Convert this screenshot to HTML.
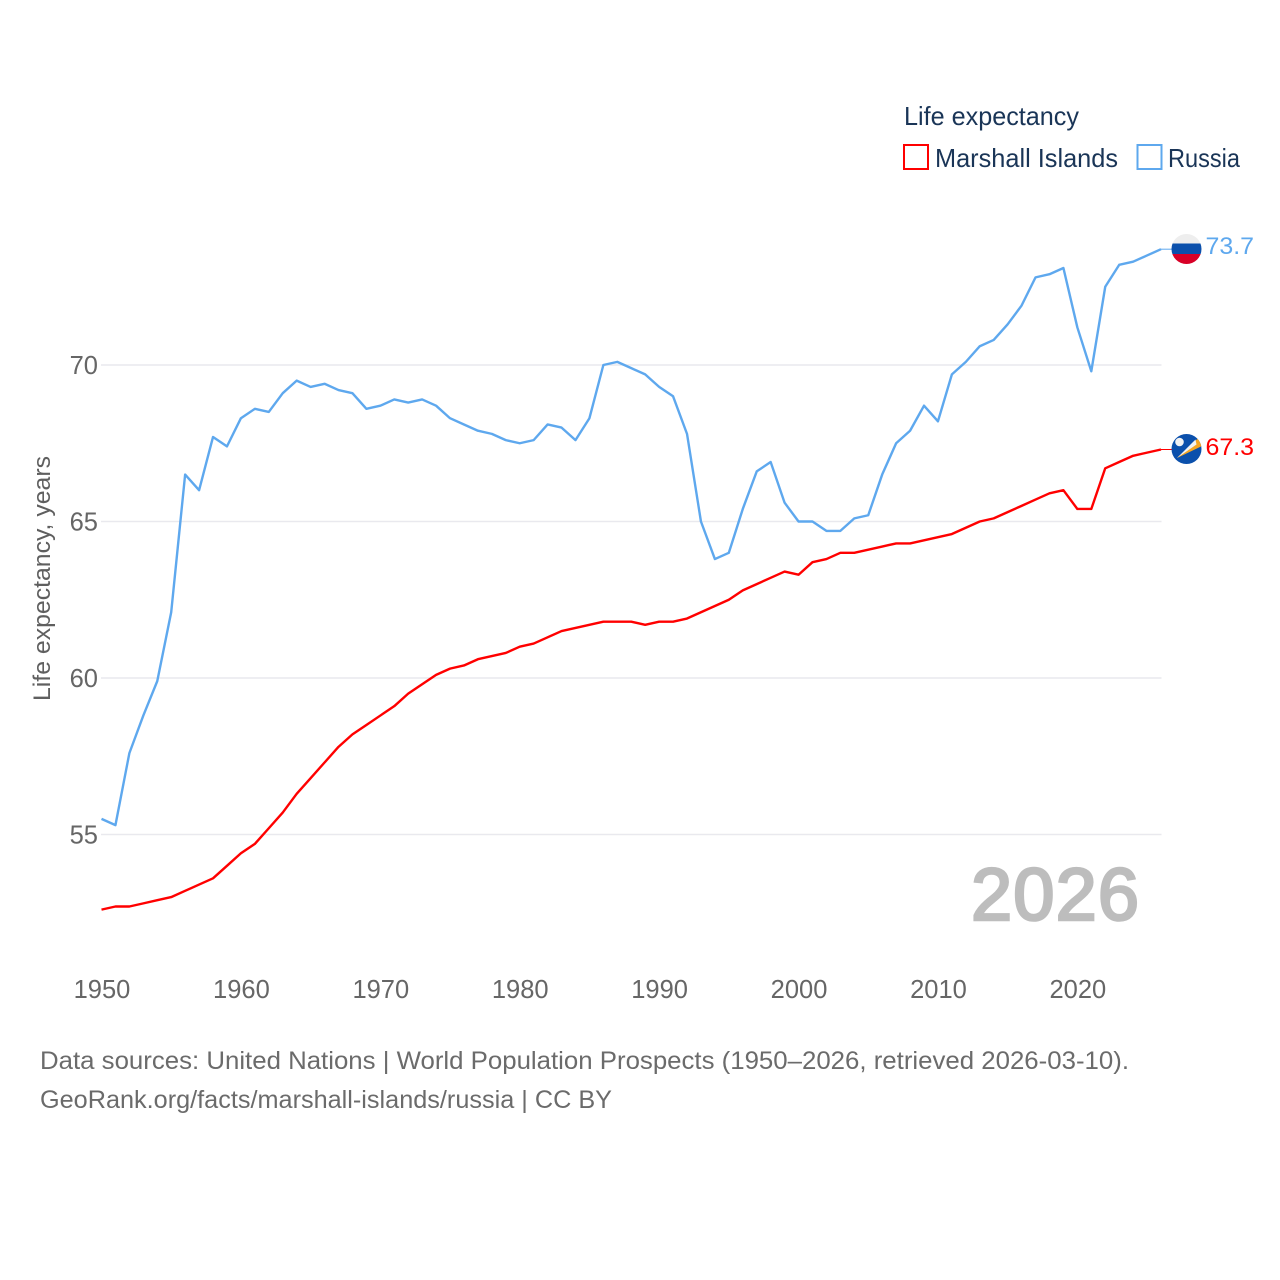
<!DOCTYPE html>
<html lang="en">
<head>
<meta charset="utf-8">
<title>Life expectancy: Marshall Islands and Russia</title>
<style>
html,body{margin:0;padding:0;background:#fff}
svg{display:block}
text{font-family:"Liberation Sans",sans-serif}
</style>
</head>
<body>
<svg id="chart" xmlns="http://www.w3.org/2000/svg" width="1280" height="1280" viewBox="0 0 1280 1280">
  <defs>
    <clipPath id="flag-clip-ru"><circle cx="1186.5" cy="249" r="15"/></clipPath>
    <clipPath id="flag-clip-mh"><circle cx="1186.5" cy="449" r="15"/></clipPath>
  </defs>
  <rect width="1280" height="1280" fill="#fff"/>
  <g id="grid"></g>
  <g id="yticks"></g>
  <g id="xticks"></g>
  <text transform="translate(50,701) rotate(-90)" font-size="24" fill="#5f5f5f" textLength="245" lengthAdjust="spacingAndGlyphs">Life expectancy, years</text>
  <text x="971" y="920" font-size="74" font-weight="400" fill="#bdbdbd" stroke="#bdbdbd" stroke-width="2.6" textLength="168" lengthAdjust="spacing">2026</text>
  <g id="series"></g>

  <g clip-path="url(#flag-clip-ru)">
    <rect x="1171" y="234" width="31" height="10" fill="#eeeeee"/>
    <rect x="1171" y="243.5" width="31" height="10.5" fill="#0b50ac"/>
    <rect x="1171" y="254" width="31" height="10" fill="#d80027"/>
  </g>
  <g clip-path="url(#flag-clip-mh)">
    <rect x="1171" y="434" width="31" height="30" fill="#0b50ac"/>
    <polygon points="1177,458 1199.5,437 1202,446" fill="#f5a623"/>
    <polygon points="1177,458 1195.5,439.5 1196.5,444.5" fill="#f2f2f2"/>
    <circle cx="1179.5" cy="442" r="4.3" fill="#f2f2f2"/>
  </g>
  <text id="label-ru" x="1205.5" y="254" font-size="24.5" fill="#5ea8ee" textLength="48.5" lengthAdjust="spacingAndGlyphs"></text>
  <text id="label-mh" x="1205.5" y="455" font-size="24.5" fill="#ff0000" textLength="48.5" lengthAdjust="spacingAndGlyphs"></text>

  <g>
    <text x="904" y="125" font-size="26" fill="#1a3557" textLength="175" lengthAdjust="spacingAndGlyphs">Life expectancy</text>
    <g>
      <rect x="904" y="145" width="24" height="24" fill="#fff" stroke="#ff0000" stroke-width="2"/>
      <text x="935" y="167" font-size="26" fill="#1a3557" textLength="183" lengthAdjust="spacingAndGlyphs">Marshall Islands</text>
    </g>
    <g>
      <rect x="1137.5" y="145" width="24" height="24" fill="#fff" stroke="#5ea8ee" stroke-width="2"/>
      <text x="1168" y="167" font-size="26" fill="#1a3557" textLength="72" lengthAdjust="spacingAndGlyphs">Russia</text>
    </g>
  </g>

  <g>
    <text x="40" y="1069" font-size="25" fill="#6b6b6b" textLength="1089" lengthAdjust="spacingAndGlyphs">Data sources: United Nations | World Population Prospects (1950–2026, retrieved 2026-03-10).</text>
    <text x="40" y="1108" font-size="25" fill="#6b6b6b" textLength="572" lengthAdjust="spacingAndGlyphs">GeoRank.org/facts/marshall-islands/russia | CC BY</text>
  </g>
</svg>
<script>
const years = [1950,1951,1952,1953,1954,1955,1956,1957,1958,1959,1960,1961,1962,1963,1964,1965,1966,1967,1968,1969,1970,1971,1972,1973,1974,1975,1976,1977,1978,1979,1980,1981,1982,1983,1984,1985,1986,1987,1988,1989,1990,1991,1992,1993,1994,1995,1996,1997,1998,1999,2000,2001,2002,2003,2004,2005,2006,2007,2008,2009,2010,2011,2012,2013,2014,2015,2016,2017,2018,2019,2020,2021,2022,2023,2024,2025,2026];
const russia = [55.5,55.3,57.6,58.8,59.9,62.1,66.5,66.0,67.7,67.4,68.3,68.6,68.5,69.1,69.5,69.3,69.4,69.2,69.1,68.6,68.7,68.9,68.8,68.9,68.7,68.3,68.1,67.9,67.8,67.6,67.5,67.6,68.1,68.0,67.6,68.3,70.0,70.1,69.9,69.7,69.3,69.0,67.8,65.0,63.8,64.0,65.4,66.6,66.9,65.6,65.0,65.0,64.7,64.7,65.1,65.2,66.5,67.5,67.9,68.7,68.2,69.7,70.1,70.6,70.8,71.3,71.9,72.8,72.9,73.1,71.2,69.8,72.5,73.2,73.3,73.5,73.7];
const marshallIslands = [52.6,52.7,52.7,52.8,52.9,53.0,53.2,53.4,53.6,54.0,54.4,54.7,55.2,55.7,56.3,56.8,57.3,57.8,58.2,58.5,58.8,59.1,59.5,59.8,60.1,60.3,60.4,60.6,60.7,60.8,61.0,61.1,61.3,61.5,61.6,61.7,61.8,61.8,61.8,61.7,61.8,61.8,61.9,62.1,62.3,62.5,62.8,63.0,63.2,63.4,63.3,63.7,63.8,64.0,64.0,64.1,64.2,64.3,64.3,64.4,64.5,64.6,64.8,65.0,65.1,65.3,65.5,65.7,65.9,66.0,65.4,65.4,66.7,66.9,67.1,67.2,67.3];
const yTickValues = [55,60,65,70];
const xTickValues = [1950,1960,1970,1980,1990,2000,2010,2020];

const NS = 'http://www.w3.org/2000/svg';
const xScale = function (year) { return 101.5 + (year - 1950) * (1161 - 101.5) / (2026 - 1950); };
const yScale = function (value) { return 365 + (70 - value) * 31.3; };
const make = function (tag) { return document.createElementNS(NS, tag); };

const grid = document.getElementById('grid');
const yticks = document.getElementById('yticks');
const xticks = document.getElementById('xticks');
const seriesGroup = document.getElementById('series');

yTickValues.forEach(function (v) {
  const line = make('line');
  
  
  line.setAttribute('x1', 101);
  line.setAttribute('x2', 1161.5);
  line.setAttribute('y1', yScale(v));
  line.setAttribute('y2', yScale(v));
  line.setAttribute('stroke', '#e9e9ee');
  line.setAttribute('stroke-width', '1.4');
  grid.appendChild(line);

  const label = make('text');
  
  
  label.setAttribute('x', 98);
  label.setAttribute('y', yScale(v) + 9);
  label.setAttribute('text-anchor', 'end');
  label.setAttribute('font-size', '25.5');
  label.setAttribute('fill', '#666666');
  label.textContent = v;
  yticks.appendChild(label);
});

xTickValues.forEach(function (v) {
  const label = make('text');
  
  
  label.setAttribute('x', xScale(v) + 0.5);
  label.setAttribute('y', 998);
  label.setAttribute('text-anchor', 'middle');
  label.setAttribute('font-size', '25.5');
  label.setAttribute('fill', '#666666');
  label.textContent = v;
  xticks.appendChild(label);
});

const drawSeries = function (values, color, name) {
  const last = values.length - 1;
  const connector = make('line');
  
  
  connector.setAttribute('x1', xScale(years[last]));
  connector.setAttribute('x2', 1172);
  connector.setAttribute('y1', yScale(values[last]));
  connector.setAttribute('y2', yScale(values[last]));
  connector.setAttribute('stroke', color);
  connector.setAttribute('stroke-width', '1');
  seriesGroup.appendChild(connector);

  const path = make('polyline');
  
  
  path.setAttribute('fill', 'none');
  path.setAttribute('stroke', color);
  path.setAttribute('stroke-width', '2.4');
  path.setAttribute('stroke-linejoin', 'round');
  path.setAttribute('points', values.map(function (v, i) {
    return xScale(years[i]).toFixed(2) + ',' + yScale(v).toFixed(2);
  }).join(' '));
  seriesGroup.appendChild(path);
};

drawSeries(russia, '#5ea8ee', 'russia');
drawSeries(marshallIslands, '#ff0000', 'marshall-islands');

document.getElementById('label-ru').textContent = russia[russia.length - 1].toFixed(1);
document.getElementById('label-mh').textContent = marshallIslands[marshallIslands.length - 1].toFixed(1);
</script>
</body>
</html>
